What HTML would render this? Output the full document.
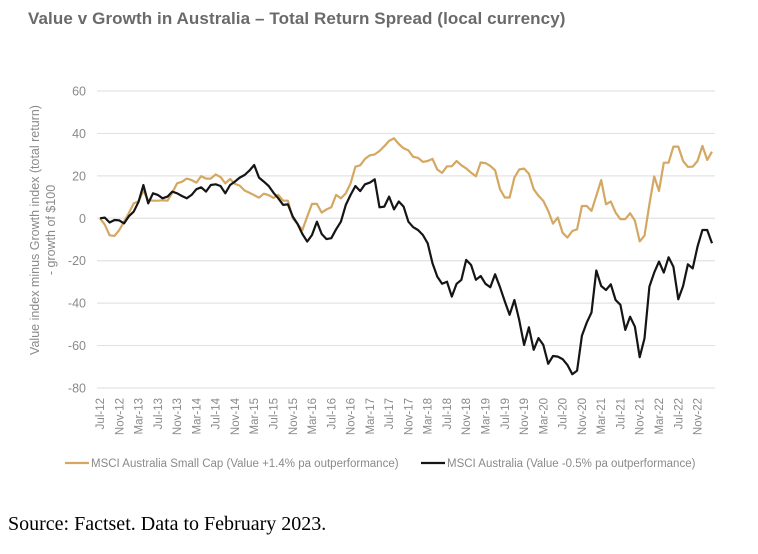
<!DOCTYPE html>
<html><head><meta charset="utf-8">
<style>
body{margin:0;background:#fff;width:758px;height:554px;overflow:hidden;position:relative;font-family:"Liberation Sans",sans-serif}
#title{position:absolute;left:28px;top:9px;font-size:17px;color:#6a6a6a;font-weight:bold;letter-spacing:0.1px}
#source{position:absolute;left:8px;top:513px;font-family:"Liberation Serif",serif;font-size:20px;color:#000}
svg{position:absolute;left:0;top:0}
</style></head><body>
<div id="title">Value v Growth in Australia – Total Return Spread (local currency)</div>
<svg id="chart" width="758" height="500"></svg>
<div id="source">Source: Factset. Data to February 2023.</div>
<script>
const yTicks=[60,40,20,0,-20,-40,-60,-80];
const xLabels=["Jul-12","Nov-12","Mar-13","Jul-13","Nov-13","Mar-14","Jul-14","Nov-14","Mar-15","Jul-15","Nov-15","Mar-16","Jul-16","Nov-16","Mar-17","Jul-17","Nov-17","Mar-18","Jul-18","Nov-18","Mar-19","Jul-19","Nov-19","Mar-20","Jul-20","Nov-20","Mar-21","Jul-21","Nov-21","Mar-22","Jul-22","Nov-22"];
const smallCap=[0,-3,-8,-8.3,-5.5,-1.5,2.5,7,8,13,8.5,8.3,8.3,8.5,8.3,12,16.5,17.2,18.7,18,16.8,19.9,18.7,18.7,20.7,19.4,16.5,18.5,16.2,15.4,13.1,12,10.9,9.7,11.6,10.9,9.6,11,8.3,8.3,0,-2.7,-5.5,0.8,6.8,6.8,2.7,4.2,5.2,11,9.4,11.8,16.5,24.3,25,28,29.7,30.1,31.7,34,36.5,37.7,35,33,32,29,28.5,26.6,27,28,23,21.4,24.5,24.5,27,25,23.5,21.5,19.8,26.3,26,24.7,22.6,13.7,9.8,9.8,19.2,23,23.4,21,13.7,10.6,8.2,3.5,-2.5,0.3,-6.8,-9.1,-6,-5.2,5.8,5.8,3.5,10.6,18,6.6,7.9,2.7,-0.4,-0.4,2.4,-1.1,-10.9,-8.2,6.6,19.7,12.9,26.2,26.2,33.8,33.8,27,24.2,24.3,27,34.1,27.5,31.4];
const msciAus=[0,0.3,-2,-0.8,-1,-2.4,1,3.1,7.8,15.7,7,11.8,11,9.4,10.2,12.6,11.8,10.5,9.4,11,13.7,14.6,12.6,15.7,16,15.2,11.8,15.7,17.3,19.2,20.4,22.5,25.1,19.2,17.3,15.2,12,9.4,6.3,6.6,0.8,-2.7,-7.4,-11,-7.9,-1.6,-7.4,-9.8,-9.4,-5.2,-1.6,6.3,11,15.2,12.8,16,16.8,18.4,5.2,5.5,10.2,4.2,7.9,5.5,-1.6,-4.2,-5.5,-7.9,-11.8,-21.2,-27.5,-30.9,-29.9,-36.9,-30.9,-29,-19.6,-22,-29,-27.2,-30.9,-32.5,-26.4,-32.5,-39.2,-45.5,-38.5,-47.9,-59.7,-51.4,-62,-56.5,-59.7,-68.6,-64.9,-65.2,-66.4,-69.1,-73.5,-71.8,-55.4,-49.2,-44.4,-24.6,-31.9,-33.8,-31.1,-38.5,-40.8,-52.6,-46.4,-51.1,-65.5,-56.6,-32.2,-25.6,-20.4,-25.6,-18.4,-22.8,-38.2,-31.9,-21.7,-23.6,-13.4,-5.5,-5.5,-11.8];

const svg=document.getElementById('chart');
const NS='http://www.w3.org/2000/svg';
const x0=100,x1=712,yTop=91,yBot=388;
const n=smallCap.length;
const xs=i=>x0+(x1-x0)*i/(n-1);
const ys=v=>yTop+(60-v)*(yBot-yTop)/140;
function mk(t,a){const e=document.createElementNS(NS,t);for(const k in a)e.setAttribute(k,a[k]);svg.appendChild(e);return e;}

yTicks.forEach(t=>{
  const g=mk('line',{x1:97,x2:715,y1:ys(t),y2:ys(t),stroke:'#e3e3e3','stroke-width':1.2});
  
  
  const l=mk('text',{x:86,y:ys(t)+4.5,'text-anchor':'end','font-size':12.5,fill:'#8a8a8a'});
  l.textContent=t;
  
  
});
xLabels.forEach((lab,i)=>{
  const x=xs(i*4)+4;
  const t=mk('text',{x:0,y:0,'text-anchor':'end','font-size':11.5,fill:'#8a8a8a',transform:`translate(${x},398) rotate(-90)`});
  t.textContent=lab;
  
  
});
const yt=mk('text',{x:0,y:0,'text-anchor':'middle','font-size':12.5,fill:'#8a8a8a',transform:'translate(39,230) rotate(-90)'});
yt.textContent='Value index minus Growth index (total return)';


const yt2=mk('text',{x:0,y:0,'text-anchor':'middle','font-size':12.5,fill:'#8a8a8a',transform:'translate(55,230) rotate(-90)'});
yt2.textContent='- growth of $100';



function series(data,color,name){
  const p=mk('polyline',{points:data.map((v,i)=>xs(i).toFixed(1)+','+ys(v).toFixed(1)).join(' '),fill:'none',stroke:color,'stroke-width':2.2,'stroke-linejoin':'round'});
  
  
}
series(smallCap,'#d4a862','series-msci-australia-small-cap');
series(msciAus,'#151515','series-msci-australia');

const l1=mk('line',{x1:65,x2:89,y1:463,y2:463,stroke:'#d4a862','stroke-width':2.2});


const t1=mk('text',{x:91,y:467,'font-size':11.5,fill:'#8a8a8a'});
t1.textContent='MSCI Australia Small Cap (Value +1.4% pa outperformance)';


const l2=mk('line',{x1:421,x2:445,y1:463,y2:463,stroke:'#151515','stroke-width':2.2});


const t2=mk('text',{x:447,y:467,'font-size':11.5,fill:'#8a8a8a'});
t2.textContent='MSCI Australia (Value -0.5% pa outperformance)';


</script>
</body></html>
